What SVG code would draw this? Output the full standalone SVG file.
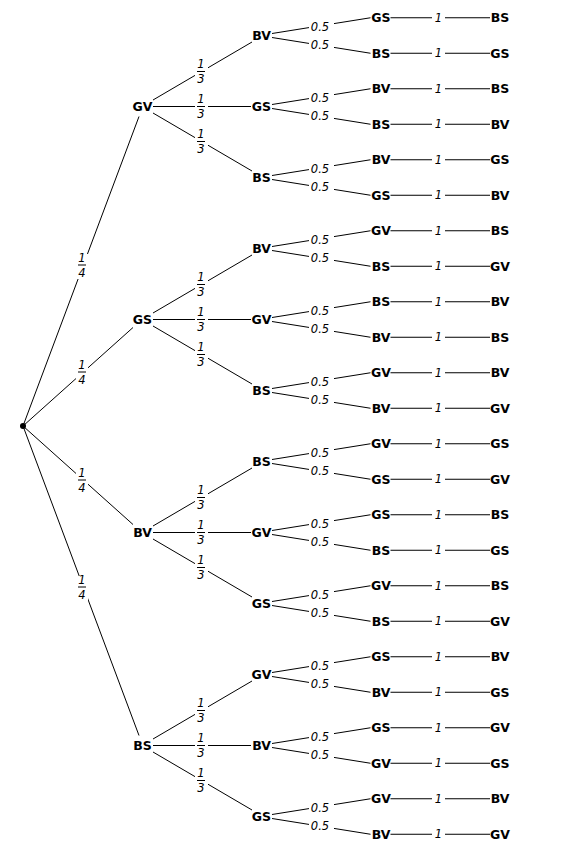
<svg xmlns="http://www.w3.org/2000/svg" width="565" height="848" viewBox="0 0 565 848">
<style>
.e{fill:none;stroke:#000;stroke-width:1}
.n{font-family:"DejaVu Sans",Verdana,sans-serif;font-weight:bold;font-size:12.5px;fill:#000;text-anchor:middle}
.l{font-family:"DejaVu Sans",Verdana,sans-serif;font-style:italic;font-size:11.5px;fill:#000;text-anchor:middle}
.bg{fill:#fff}
.bar{stroke:#000;stroke-width:1}
</style>
<rect width="565" height="848" fill="#fff"/>
<g id="connectors">
<path class="e" d="M23 426L139 116.5M23 426L133 327.5M23 426L133 524.5M23 426L139 735.5"/>
<path class="e" d="M153 100L252 42M153 106.5L251 106.5M153 113L252 171"/>
<path class="e" d="M153 313L252 255M153 319.5L251 319.5M153 326L252 384"/>
<path class="e" d="M153 526L252 468M153 532.5L251 532.5M153 539L252 597"/>
<path class="e" d="M153 739L252 681M153 745.5L251 745.5M153 752L252 810"/>
<path class="e" d="M272 33.5L370.5 17.75M272 37.5L370.5 53.25M272 104.5L370.5 88.75M272 108.5L370.5 124.25M272 175.5L370.5 159.75M272 179.5L370.5 195.25M272 246.5L370.5 230.75M272 250.5L370.5 266.25M272 317.5L370.5 301.75M272 321.5L370.5 337.25M272 388.5L370.5 372.75M272 392.5L370.5 408.25M272 459.5L370.5 443.75M272 463.5L370.5 479.25M272 530.5L370.5 514.75M272 534.5L370.5 550.25M272 601.5L370.5 585.75M272 605.5L370.5 621.25M272 672.5L370.5 656.75M272 676.5L370.5 692.25M272 743.5L370.5 727.75M272 747.5L370.5 763.25M272 814.5L370.5 798.75M272 818.5L370.5 834.25"/>
<path class="e" d="M390.5 17.75H490M390.5 53.25H490M390.5 88.75H490M390.5 124.25H490M390.5 159.75H490M390.5 195.25H490M390.5 230.75H490M390.5 266.25H490M390.5 301.75H490M390.5 337.25H490M390.5 372.75H490M390.5 408.25H490M390.5 443.75H490M390.5 479.25H490M390.5 514.75H490M390.5 550.25H490M390.5 585.75H490M390.5 621.25H490M390.5 656.75H490M390.5 692.25H490M390.5 727.75H490M390.5 763.25H490M390.5 798.75H490M390.5 834.25H490"/>
</g>
<g id="labels-quarter">
<rect class="bg" x="76" y="254" width="12" height="25"/><text class="l" x="82" y="261.5">1</text><line class="bar" x1="78" y1="265" x2="86" y2="265"/><text class="l" x="82" y="276.5">4</text>
<rect class="bg" x="76" y="361" width="12" height="25"/><text class="l" x="82" y="368.5">1</text><line class="bar" x1="78" y1="372" x2="86" y2="372"/><text class="l" x="82" y="383.5">4</text>
<rect class="bg" x="76" y="469" width="12" height="25"/><text class="l" x="82" y="476.5">1</text><line class="bar" x1="78" y1="480" x2="86" y2="480"/><text class="l" x="82" y="491.5">4</text>
<rect class="bg" x="76" y="576" width="12" height="25"/><text class="l" x="82" y="583.5">1</text><line class="bar" x1="78" y1="587" x2="86" y2="587"/><text class="l" x="82" y="598.5">4</text>
</g>
<g id="labels-third">
<rect class="bg" x="195" y="60.5" width="13" height="25"/><text class="l" x="201" y="68">1</text><line class="bar" x1="197" y1="71.5" x2="205" y2="71.5"/><text class="l" x="201" y="83">3</text>
<rect class="bg" x="195" y="95.5" width="13" height="25"/><text class="l" x="201" y="103">1</text><line class="bar" x1="197" y1="106.5" x2="205" y2="106.5"/><text class="l" x="201" y="118">3</text>
<rect class="bg" x="195" y="130.5" width="13" height="25"/><text class="l" x="201" y="138">1</text><line class="bar" x1="197" y1="141.5" x2="205" y2="141.5"/><text class="l" x="201" y="153">3</text>
<rect class="bg" x="195" y="273.5" width="13" height="25"/><text class="l" x="201" y="281">1</text><line class="bar" x1="197" y1="284.5" x2="205" y2="284.5"/><text class="l" x="201" y="296">3</text>
<rect class="bg" x="195" y="308.5" width="13" height="25"/><text class="l" x="201" y="316">1</text><line class="bar" x1="197" y1="319.5" x2="205" y2="319.5"/><text class="l" x="201" y="331">3</text>
<rect class="bg" x="195" y="343.5" width="13" height="25"/><text class="l" x="201" y="351">1</text><line class="bar" x1="197" y1="354.5" x2="205" y2="354.5"/><text class="l" x="201" y="366">3</text>
<rect class="bg" x="195" y="486.5" width="13" height="25"/><text class="l" x="201" y="494">1</text><line class="bar" x1="197" y1="497.5" x2="205" y2="497.5"/><text class="l" x="201" y="509">3</text>
<rect class="bg" x="195" y="521.5" width="13" height="25"/><text class="l" x="201" y="529">1</text><line class="bar" x1="197" y1="532.5" x2="205" y2="532.5"/><text class="l" x="201" y="544">3</text>
<rect class="bg" x="195" y="556.5" width="13" height="25"/><text class="l" x="201" y="564">1</text><line class="bar" x1="197" y1="567.5" x2="205" y2="567.5"/><text class="l" x="201" y="579">3</text>
<rect class="bg" x="195" y="699.5" width="13" height="25"/><text class="l" x="201" y="707">1</text><line class="bar" x1="197" y1="710.5" x2="205" y2="710.5"/><text class="l" x="201" y="722">3</text>
<rect class="bg" x="195" y="734.5" width="13" height="25"/><text class="l" x="201" y="742">1</text><line class="bar" x1="197" y1="745.5" x2="205" y2="745.5"/><text class="l" x="201" y="757">3</text>
<rect class="bg" x="195" y="769.5" width="13" height="25"/><text class="l" x="201" y="777">1</text><line class="bar" x1="197" y1="780.5" x2="205" y2="780.5"/><text class="l" x="201" y="792">3</text>
</g>
<g id="labels-half">
<rect class="bg" x="309" y="20.5" width="25" height="12"/><text class="l" x="320" y="30.5">0.5</text>
<rect class="bg" x="309" y="38.5" width="25" height="12"/><text class="l" x="320" y="48.5">0.5</text>
<rect class="bg" x="309" y="91.5" width="25" height="12"/><text class="l" x="320" y="101.5">0.5</text>
<rect class="bg" x="309" y="109.5" width="25" height="12"/><text class="l" x="320" y="119.5">0.5</text>
<rect class="bg" x="309" y="162.5" width="25" height="12"/><text class="l" x="320" y="172.5">0.5</text>
<rect class="bg" x="309" y="180.5" width="25" height="12"/><text class="l" x="320" y="190.5">0.5</text>
<rect class="bg" x="309" y="233.5" width="25" height="12"/><text class="l" x="320" y="243.5">0.5</text>
<rect class="bg" x="309" y="251.5" width="25" height="12"/><text class="l" x="320" y="261.5">0.5</text>
<rect class="bg" x="309" y="304.5" width="25" height="12"/><text class="l" x="320" y="314.5">0.5</text>
<rect class="bg" x="309" y="322.5" width="25" height="12"/><text class="l" x="320" y="332.5">0.5</text>
<rect class="bg" x="309" y="375.5" width="25" height="12"/><text class="l" x="320" y="385.5">0.5</text>
<rect class="bg" x="309" y="393.5" width="25" height="12"/><text class="l" x="320" y="403.5">0.5</text>
<rect class="bg" x="309" y="446.5" width="25" height="12"/><text class="l" x="320" y="456.5">0.5</text>
<rect class="bg" x="309" y="464.5" width="25" height="12"/><text class="l" x="320" y="474.5">0.5</text>
<rect class="bg" x="309" y="517.5" width="25" height="12"/><text class="l" x="320" y="527.5">0.5</text>
<rect class="bg" x="309" y="535.5" width="25" height="12"/><text class="l" x="320" y="545.5">0.5</text>
<rect class="bg" x="309" y="588.5" width="25" height="12"/><text class="l" x="320" y="598.5">0.5</text>
<rect class="bg" x="309" y="606.5" width="25" height="12"/><text class="l" x="320" y="616.5">0.5</text>
<rect class="bg" x="309" y="659.5" width="25" height="12"/><text class="l" x="320" y="669.5">0.5</text>
<rect class="bg" x="309" y="677.5" width="25" height="12"/><text class="l" x="320" y="687.5">0.5</text>
<rect class="bg" x="309" y="730.5" width="25" height="12"/><text class="l" x="320" y="740.5">0.5</text>
<rect class="bg" x="309" y="748.5" width="25" height="12"/><text class="l" x="320" y="758.5">0.5</text>
<rect class="bg" x="309" y="801.5" width="25" height="12"/><text class="l" x="320" y="811.5">0.5</text>
<rect class="bg" x="309" y="819.5" width="25" height="12"/><text class="l" x="320" y="829.5">0.5</text>
</g>
<g id="labels-one">
<rect class="bg" x="432" y="11.75" width="13" height="12"/><text class="l" x="438.5" y="21.75">1</text>
<rect class="bg" x="432" y="47.25" width="13" height="12"/><text class="l" x="438.5" y="57.25">1</text>
<rect class="bg" x="432" y="82.75" width="13" height="12"/><text class="l" x="438.5" y="92.75">1</text>
<rect class="bg" x="432" y="118.25" width="13" height="12"/><text class="l" x="438.5" y="128.25">1</text>
<rect class="bg" x="432" y="153.75" width="13" height="12"/><text class="l" x="438.5" y="163.75">1</text>
<rect class="bg" x="432" y="189.25" width="13" height="12"/><text class="l" x="438.5" y="199.25">1</text>
<rect class="bg" x="432" y="224.75" width="13" height="12"/><text class="l" x="438.5" y="234.75">1</text>
<rect class="bg" x="432" y="260.25" width="13" height="12"/><text class="l" x="438.5" y="270.25">1</text>
<rect class="bg" x="432" y="295.75" width="13" height="12"/><text class="l" x="438.5" y="305.75">1</text>
<rect class="bg" x="432" y="331.25" width="13" height="12"/><text class="l" x="438.5" y="341.25">1</text>
<rect class="bg" x="432" y="366.75" width="13" height="12"/><text class="l" x="438.5" y="376.75">1</text>
<rect class="bg" x="432" y="402.25" width="13" height="12"/><text class="l" x="438.5" y="412.25">1</text>
<rect class="bg" x="432" y="437.75" width="13" height="12"/><text class="l" x="438.5" y="447.75">1</text>
<rect class="bg" x="432" y="473.25" width="13" height="12"/><text class="l" x="438.5" y="483.25">1</text>
<rect class="bg" x="432" y="508.75" width="13" height="12"/><text class="l" x="438.5" y="518.75">1</text>
<rect class="bg" x="432" y="544.25" width="13" height="12"/><text class="l" x="438.5" y="554.25">1</text>
<rect class="bg" x="432" y="579.75" width="13" height="12"/><text class="l" x="438.5" y="589.75">1</text>
<rect class="bg" x="432" y="615.25" width="13" height="12"/><text class="l" x="438.5" y="625.25">1</text>
<rect class="bg" x="432" y="650.75" width="13" height="12"/><text class="l" x="438.5" y="660.75">1</text>
<rect class="bg" x="432" y="686.25" width="13" height="12"/><text class="l" x="438.5" y="696.25">1</text>
<rect class="bg" x="432" y="721.75" width="13" height="12"/><text class="l" x="438.5" y="731.75">1</text>
<rect class="bg" x="432" y="757.25" width="13" height="12"/><text class="l" x="438.5" y="767.25">1</text>
<rect class="bg" x="432" y="792.75" width="13" height="12"/><text class="l" x="438.5" y="802.75">1</text>
<rect class="bg" x="432" y="828.25" width="13" height="12"/><text class="l" x="438.5" y="838.25">1</text>
</g>
<g id="root"><circle cx="23" cy="426" r="3" fill="#000"/></g>
<g id="n1"><text class="n" x="142.5" y="111">GV</text></g>
<g id="n2"><text class="n" x="142.5" y="324">GS</text></g>
<g id="n3"><text class="n" x="142.5" y="537">BV</text></g>
<g id="n4"><text class="n" x="142.5" y="750">BS</text></g>
<g id="n1-1"><text class="n" x="261.5" y="40">BV</text></g>
<g id="n1-2"><text class="n" x="261.5" y="111">GS</text></g>
<g id="n1-3"><text class="n" x="261.5" y="182">BS</text></g>
<g id="n2-1"><text class="n" x="261.5" y="253">BV</text></g>
<g id="n2-2"><text class="n" x="261.5" y="324">GV</text></g>
<g id="n2-3"><text class="n" x="261.5" y="395">BS</text></g>
<g id="n3-1"><text class="n" x="261.5" y="466">BS</text></g>
<g id="n3-2"><text class="n" x="261.5" y="537">GV</text></g>
<g id="n3-3"><text class="n" x="261.5" y="608">GS</text></g>
<g id="n4-1"><text class="n" x="261.5" y="679">GV</text></g>
<g id="n4-2"><text class="n" x="261.5" y="750">BV</text></g>
<g id="n4-3"><text class="n" x="261.5" y="821">GS</text></g>
<g id="n1-1-1"><text class="n" x="381" y="22.25">GS</text></g>
<g id="n1-1-1-1"><text class="n" x="500" y="22.25">BS</text></g>
<g id="n1-1-2"><text class="n" x="381" y="57.75">BS</text></g>
<g id="n1-1-2-1"><text class="n" x="500" y="57.75">GS</text></g>
<g id="n1-2-1"><text class="n" x="381" y="93.25">BV</text></g>
<g id="n1-2-1-1"><text class="n" x="500" y="93.25">BS</text></g>
<g id="n1-2-2"><text class="n" x="381" y="128.75">BS</text></g>
<g id="n1-2-2-1"><text class="n" x="500" y="128.75">BV</text></g>
<g id="n1-3-1"><text class="n" x="381" y="164.25">BV</text></g>
<g id="n1-3-1-1"><text class="n" x="500" y="164.25">GS</text></g>
<g id="n1-3-2"><text class="n" x="381" y="199.75">GS</text></g>
<g id="n1-3-2-1"><text class="n" x="500" y="199.75">BV</text></g>
<g id="n2-1-1"><text class="n" x="381" y="235.25">GV</text></g>
<g id="n2-1-1-1"><text class="n" x="500" y="235.25">BS</text></g>
<g id="n2-1-2"><text class="n" x="381" y="270.75">BS</text></g>
<g id="n2-1-2-1"><text class="n" x="500" y="270.75">GV</text></g>
<g id="n2-2-1"><text class="n" x="381" y="306.25">BS</text></g>
<g id="n2-2-1-1"><text class="n" x="500" y="306.25">BV</text></g>
<g id="n2-2-2"><text class="n" x="381" y="341.75">BV</text></g>
<g id="n2-2-2-1"><text class="n" x="500" y="341.75">BS</text></g>
<g id="n2-3-1"><text class="n" x="381" y="377.25">GV</text></g>
<g id="n2-3-1-1"><text class="n" x="500" y="377.25">BV</text></g>
<g id="n2-3-2"><text class="n" x="381" y="412.75">BV</text></g>
<g id="n2-3-2-1"><text class="n" x="500" y="412.75">GV</text></g>
<g id="n3-1-1"><text class="n" x="381" y="448.25">GV</text></g>
<g id="n3-1-1-1"><text class="n" x="500" y="448.25">GS</text></g>
<g id="n3-1-2"><text class="n" x="381" y="483.75">GS</text></g>
<g id="n3-1-2-1"><text class="n" x="500" y="483.75">GV</text></g>
<g id="n3-2-1"><text class="n" x="381" y="519.25">GS</text></g>
<g id="n3-2-1-1"><text class="n" x="500" y="519.25">BS</text></g>
<g id="n3-2-2"><text class="n" x="381" y="554.75">BS</text></g>
<g id="n3-2-2-1"><text class="n" x="500" y="554.75">GS</text></g>
<g id="n3-3-1"><text class="n" x="381" y="590.25">GV</text></g>
<g id="n3-3-1-1"><text class="n" x="500" y="590.25">BS</text></g>
<g id="n3-3-2"><text class="n" x="381" y="625.75">BS</text></g>
<g id="n3-3-2-1"><text class="n" x="500" y="625.75">GV</text></g>
<g id="n4-1-1"><text class="n" x="381" y="661.25">GS</text></g>
<g id="n4-1-1-1"><text class="n" x="500" y="661.25">BV</text></g>
<g id="n4-1-2"><text class="n" x="381" y="696.75">BV</text></g>
<g id="n4-1-2-1"><text class="n" x="500" y="696.75">GS</text></g>
<g id="n4-2-1"><text class="n" x="381" y="732.25">GS</text></g>
<g id="n4-2-1-1"><text class="n" x="500" y="732.25">GV</text></g>
<g id="n4-2-2"><text class="n" x="381" y="767.75">GV</text></g>
<g id="n4-2-2-1"><text class="n" x="500" y="767.75">GS</text></g>
<g id="n4-3-1"><text class="n" x="381" y="803.25">GV</text></g>
<g id="n4-3-1-1"><text class="n" x="500" y="803.25">BV</text></g>
<g id="n4-3-2"><text class="n" x="381" y="838.75">BV</text></g>
<g id="n4-3-2-1"><text class="n" x="500" y="838.75">GV</text></g>
</svg>
